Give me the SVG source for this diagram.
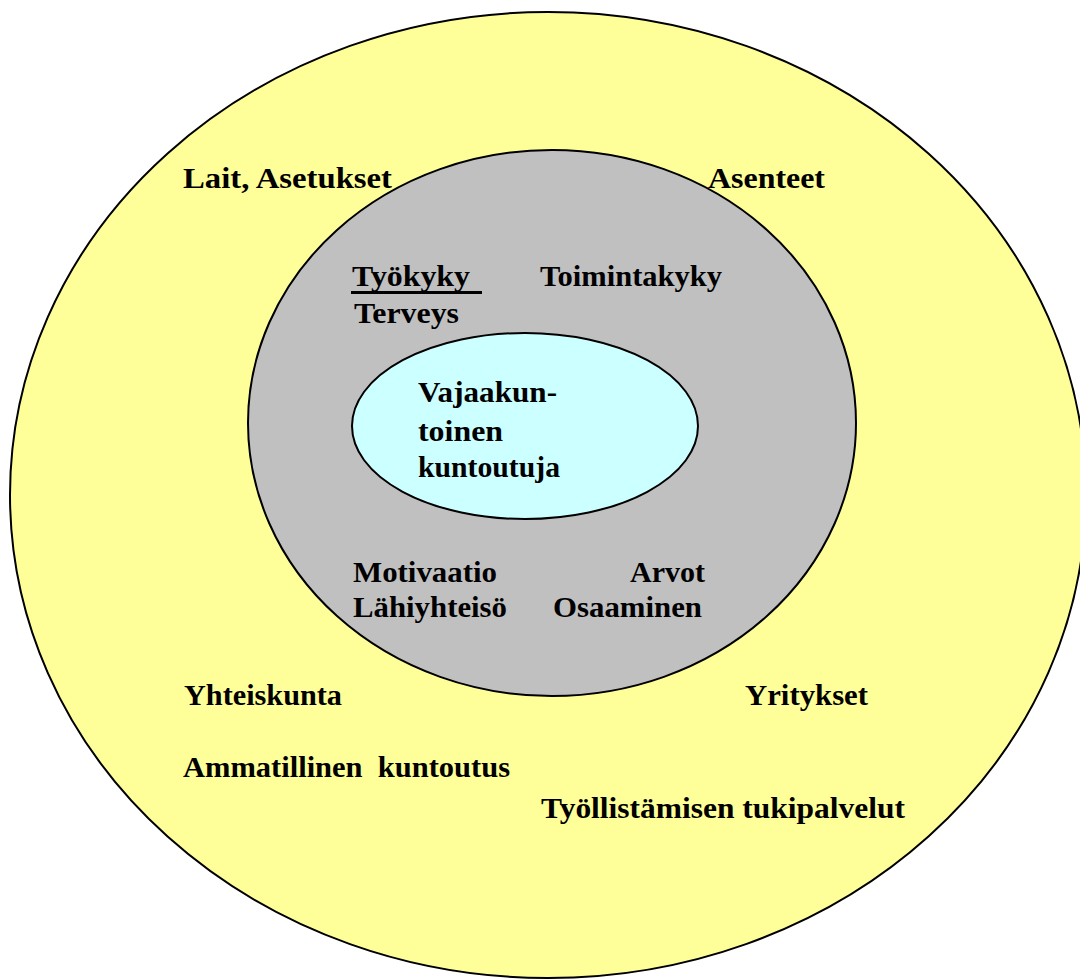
<svg xmlns="http://www.w3.org/2000/svg" width="1080" height="979" viewBox="0 0 1080 979">
<style>
.t{font-family:"Liberation Serif","Times New Roman",serif;font-weight:bold;font-size:29px;fill:#000}
.e{stroke:#000;stroke-width:2}
</style>
<rect width="1080" height="979" fill="#fff"/>
<g id="outer">
<ellipse class="e" cx="548" cy="495" rx="538" ry="483" fill="#FFFF99"/>
<text class="t" x="183" y="188" textLength="209" lengthAdjust="spacingAndGlyphs">Lait, Asetukset</text>
<text class="t" x="708" y="188" textLength="117" lengthAdjust="spacingAndGlyphs">Asenteet</text>
<text class="t" x="184" y="705" textLength="158" lengthAdjust="spacingAndGlyphs">Yhteiskunta</text>
<text class="t" x="745" y="705" textLength="123" lengthAdjust="spacingAndGlyphs">Yritykset</text>
<text class="t" x="183" y="777" textLength="327" lengthAdjust="spacingAndGlyphs">Ammatillinen&#160; kuntoutus</text>
<text class="t" x="541" y="818" textLength="364" lengthAdjust="spacingAndGlyphs">Työllistämisen tukipalvelut</text>
</g>
<g id="middle">
<ellipse class="e" cx="552" cy="423" rx="304" ry="273" fill="#C0C0C0"/>
<text class="t" x="352" y="286" textLength="118" lengthAdjust="spacingAndGlyphs">Työkyky</text>
<line x1="351" y1="292.5" x2="482" y2="292.5" stroke="#000" stroke-width="3"/>
<text class="t" x="540" y="286" textLength="182" lengthAdjust="spacingAndGlyphs">Toimintakyky</text>
<text class="t" x="354" y="323" textLength="105" lengthAdjust="spacingAndGlyphs">Terveys</text>
<text class="t" x="353" y="582" textLength="144" lengthAdjust="spacingAndGlyphs">Motivaatio</text>
<text class="t" x="630" y="582" textLength="75" lengthAdjust="spacingAndGlyphs">Arvot</text>
<text class="t" x="353" y="617" textLength="154" lengthAdjust="spacingAndGlyphs">Lähiyhteisö</text>
<text class="t" x="553" y="617" textLength="149" lengthAdjust="spacingAndGlyphs">Osaaminen</text>
</g>
<g id="inner">
<ellipse class="e" cx="525" cy="426" rx="173" ry="93" fill="#CCFFFF"/>
<text class="t" x="418" y="402" textLength="139" lengthAdjust="spacingAndGlyphs">Vajaakun-</text>
<text class="t" x="418" y="441" textLength="85" lengthAdjust="spacingAndGlyphs">toinen</text>
<text class="t" x="418" y="477" textLength="142" lengthAdjust="spacingAndGlyphs">kuntoutuja</text>
</g>
<g id="connectors"></g>
</svg>
